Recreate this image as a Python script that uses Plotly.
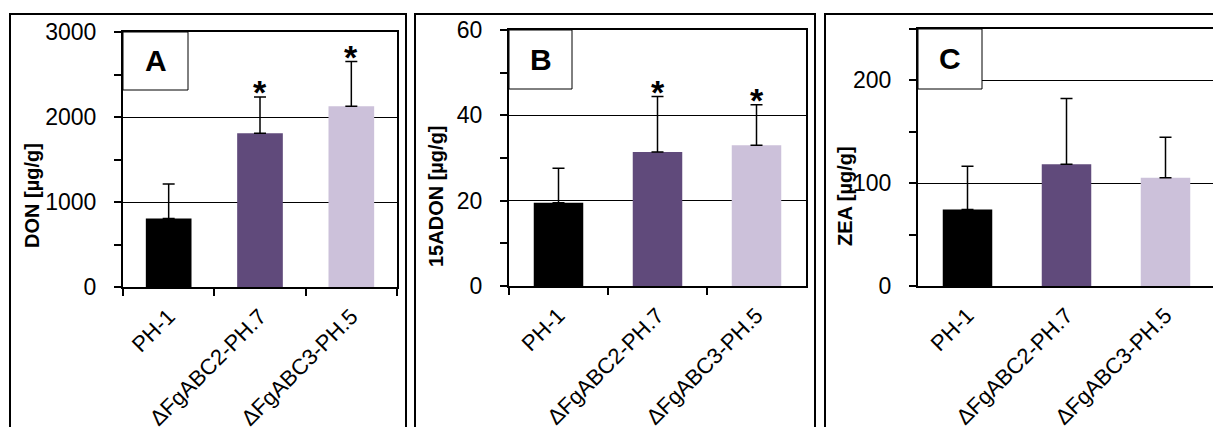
import plotly.graph_objects as go

W, H = 1213, 427

# strains and bar colours
strains = ["PH-1", "ΔFgABC2-PH.7", "ΔFgABC3-PH.5"]
bar_colors = ["#000000", "#604A7B", "#CCC1DA"]

# toxin content (mean and standard deviation, µg/g)
don_mean = [805, 1808, 2126]
don_sd = [407, 427, 526]
adon_mean = [19.5, 31.4, 33.0]
adon_sd = [8.1, 13.0, 9.5]
zea_mean = [74.3, 118.4, 105.4]
zea_sd = [42.1, 63.9, 39.2]

# significant difference from PH-1
don_sig = [False, True, True]
adon_sig = [False, True, True]
zea_sig = [False, False, False]

FONT = "Liberation Sans, Arial, sans-serif"


def px(x):
    return x / W


def py(y):
    return 1 - y / H


panels = [
    dict(letter="A", mean=don_mean, sd=don_sd, sig=don_sig, title="DON [µg/g]",
         plot=(123, 397, 32, 287), yrange=[0, 3000], dtick=1000, minor=500,
         frame=(10, 406), box=(123, 188, 32, 90), title_x=32, xticks=True, right=True),
    dict(letter="B", mean=adon_mean, sd=adon_sd, sig=adon_sig, title="15ADON [µg/g]",
         plot=(509, 806, 30, 286), yrange=[0, 60], dtick=20, minor=10,
         frame=(415, 815), box=(509, 572, 30, 89), title_x=436, xticks=True, right=True),
    dict(letter="C", mean=zea_mean, sd=zea_sd, sig=zea_sig, title="ZEA [µg/g]",
         plot=(918, 1213, 29, 286), yrange=[0, 250], dtick=100, minor=50,
         frame=(825, 1240), box=(918, 982, 29, 89), title_x=845, xticks=False, right=False),
]

fig = go.Figure()
shapes = []
annotations = []

for i, p in enumerate(panels, start=1):
    xa = "x" if i == 1 else f"x{i}"
    ya = "y" if i == 1 else f"y{i}"
    x0, x1, y0, y1 = p["plot"]
    cat_w = 99
    xr = [-0.5, -0.5 + (x1 - x0) / cat_w] if not p["right"] else [-0.5, 2.5]

    fig.add_trace(go.Bar(
        x=strains, y=p["mean"], xaxis=xa, yaxis=ya,
        marker=dict(color=bar_colors, line=dict(width=0)),
        width=0.5,
        error_y=dict(type="data", array=p["sd"], arrayminus=[0] * len(p["sd"]),
                     symmetric=False, color="black", thickness=1.5, width=6),
        showlegend=False,
    ))

    xkey = "xaxis" if i == 1 else f"xaxis{i}"
    ykey = "yaxis" if i == 1 else f"yaxis{i}"
    fig.layout[xkey] = dict(
        domain=[px(x0), min(px(x1), 1.0)], anchor=ya, type="category",
        range=xr, showline=True, linewidth=2, linecolor="black", mirror=True,
        ticks="outside" if p["xticks"] else "", tickson="boundaries",
        ticklen=7, tickwidth=1.5, tickcolor="black",
        tickangle=-45, tickfont=dict(family=FONT, size=22, color="black"),
        ticklabelstandoff=6, showgrid=False, zeroline=False, automargin=False,
    )
    fig.layout[ykey] = dict(
        domain=[py(y1), py(y0)], anchor=xa, range=p["yrange"], dtick=p["dtick"],
        showline=True, linewidth=2, linecolor="black", mirror=p["right"],
        ticks="outside", ticklen=7, tickwidth=1.5, tickcolor="black",
        tickfont=dict(family=FONT, size=23, color="black"), ticklabelstandoff=13,
        showgrid=True, gridcolor="black", gridwidth=1, zeroline=False, automargin=False,
        minor=dict(dtick=p["minor"], ticks="outside", ticklen=7, tickwidth=1.5,
                   tickcolor="black", showgrid=False),
    )

    # outer panel frame
    fx0, fx1 = p["frame"]
    shapes.append(dict(type="rect", xref="paper", yref="paper",
                       x0=px(fx0), x1=px(fx1), y0=py(14), y1=py(460),
                       line=dict(color="black", width=2), fillcolor="rgba(0,0,0,0)",
                       layer="above"))
    # panel letter box
    bx0, bx1, by0, by1 = p["box"]
    shapes.append(dict(type="rect", xref="paper", yref="paper",
                       x0=px(bx0), x1=px(bx1), y0=py(by1), y1=py(by0),
                       line=dict(color="black", width=1), fillcolor="white",
                       layer="above"))
    annotations.append(dict(xref="paper", yref="paper",
                            x=px((bx0 + bx1) / 2), y=py((by0 + by1) / 2),
                            text=f"<b>{p['letter']}</b>", showarrow=False,
                            font=dict(family=FONT, size=30, color="black"),
                            xanchor="center", yanchor="middle"))
    # y axis title
    annotations.append(dict(xref="paper", yref="paper", x=px(p["title_x"]), y=py(196),
                            text=f"<b>{p['title']}</b>", textangle=-90, showarrow=False,
                            font=dict(family=FONT, size=20, color="black"),
                            xanchor="center", yanchor="middle"))
    # significance marks
    for s, m, e, flag in zip(strains, p["mean"], p["sd"], p["sig"]):
        if flag:
            annotations.append(dict(xref=xa, yref=ya, x=s, y=m + e,
                                    text="<b>*</b>", showarrow=False,
                                    font=dict(family=FONT, size=34, color="black"),
                                    xanchor="center", yanchor="bottom", yshift=-16))

fig.update_layout(
    width=W, height=H, margin=dict(l=0, r=0, t=0, b=0),
    paper_bgcolor="white", plot_bgcolor="white",
    shapes=shapes, annotations=annotations, bargap=0.5,
)

fig.write_html("out.html")
